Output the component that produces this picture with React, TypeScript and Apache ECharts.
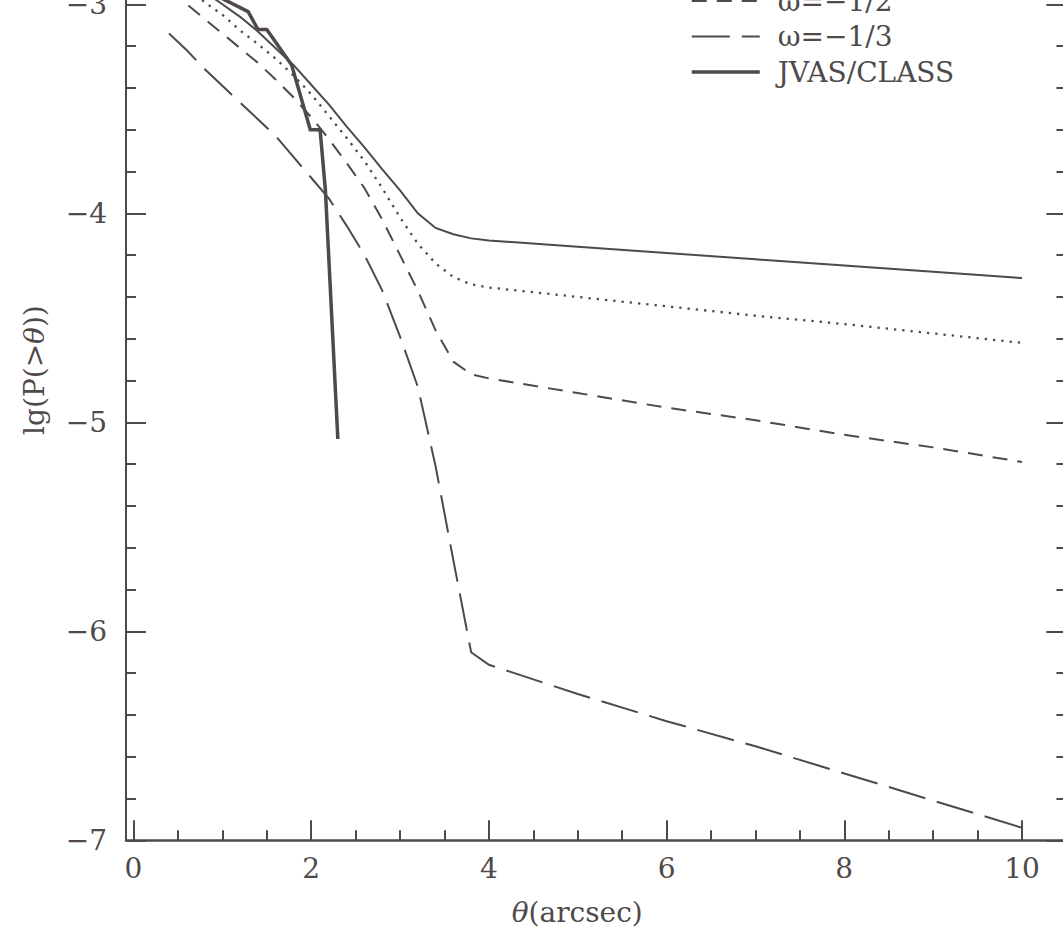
import React, { useEffect, useRef } from "react";
import * as echarts from "echarts";

// theta (arcsec) sample points for the model curves
const thetaModel = [
  0.4, 0.6, 0.8, 1.0, 1.2, 1.4, 1.6, 1.8, 2.0, 2.2, 2.4, 2.6, 2.8, 3.0, 3.2, 3.4, 3.6, 3.8, 4.0,
  5, 6, 7, 8, 9, 10,
];
// lg P(>theta) for each dark-energy model
const lgP_wm1 = [
  -2.83, -2.88, -2.94, -3.0, -3.06, -3.13, -3.21, -3.29, -3.385, -3.48, -3.585, -3.685, -3.79, -3.89,
  -4.0, -4.07, -4.1, -4.12, -4.13, -4.16, -4.19, -4.22, -4.25, -4.28, -4.31,
];
const lgP_wm23 = [
  -2.86, -2.92, -2.99, -3.05, -3.125, -3.19, -3.26, -3.34, -3.43, -3.535, -3.64, -3.75, -3.88, -4.02,
  -4.145, -4.24, -4.305, -4.34, -4.355, -4.4, -4.445, -4.49, -4.53, -4.575, -4.62,
];
const lgP_wm12 = [
  -2.93, -3.0, -3.07, -3.14, -3.21, -3.28, -3.36, -3.445, -3.54, -3.645, -3.76, -3.88, -4.03, -4.2,
  -4.37, -4.56, -4.71, -4.77, -4.79, -4.86, -4.93, -4.99, -5.06, -5.12, -5.19,
];
const lgP_wm13 = [
  -3.14, -3.22, -3.31, -3.39, -3.47, -3.55, -3.63, -3.73, -3.83, -3.93, -4.06, -4.2, -4.37, -4.59,
  -4.83, -5.21, -5.66, -6.1, -6.16, -6.3, -6.43, -6.55, -6.68, -6.81, -6.94,
];
// observed JVAS/CLASS distribution
const thetaObs = [0.8, 1.29, 1.4, 1.5, 1.78, 1.99, 2.1, 2.16, 2.3];
const lgP_obs = [-2.93, -3.035, -3.12, -3.12, -3.29, -3.6, -3.6, -3.89, -5.08];

// axis ticks
const xMajorTicks = [0, 2, 4, 6, 8, 10];
const xMinorTicks = [0.5, 1, 1.5, 2.5, 3, 3.5, 4.5, 5, 5.5, 6.5, 7, 7.5, 8.5, 9, 9.5];
const yMajorTicks = [-7, -6, -5, -4, -3];
const yMinorTicks = [
  -6.8, -6.6, -6.4, -6.2, -5.8, -5.6, -5.4, -5.2, -4.8, -4.6, -4.4, -4.2, -3.8, -3.6, -3.4, -3.2,
  -2.8, -2.6,
];

const seriesNames = ["ω=−1", "ω=−2/3", "ω=−1/2", "ω=−1/3", "JVAS/CLASS"];
const legendNames = ["ω=−1/2", "ω=−1/3", "JVAS/CLASS"];

const X_MIN = -0.0844;
const X_MAX = 10.5;
const Y_MIN = -7;
const Y_MAX = -2.5;

const INK = "#4f4949";
const FONT = "DejaVu Serif";

const pairs = (xs: number[], ys: number[]) => xs.map((x, i) => [x, ys[i]]);
const minus = (v: number) => String(v).replace("-", "\u2212");

export default function App() {
  const ref = useRef<HTMLDivElement>(null);

  useEffect(() => {
    if (!ref.current) return;
    const chart = echarts.init(ref.current, null, { renderer: "svg" });

    const lineBase = (name: string, ys: number[], xs: number[], width: number, type: any, z = 2) => ({
      name,
      type: "line",
      data: pairs(xs, ys),
      symbol: "none",
      showSymbol: false,
      smooth: false,
      z,
      lineStyle: { color: INK, width, type, cap: "butt", join: "miter" },
      itemStyle: { color: INK },
      emphasis: { disabled: true },
    });

    const xCommon = {
      type: "value",
      position: "bottom",
      min: X_MIN,
      max: X_MAX,
      splitLine: { show: false },
    };
    const yCommon = {
      type: "value",
      min: Y_MIN,
      max: Y_MAX,
      splitLine: { show: false },
    };

    chart.setOption({
      animation: false,
      backgroundColor: "#ffffff",
      grid: { left: 126, right: 133.6, top: 49.8, bottom: 92.7, containLabel: false },
      legend: {
        data: legendNames,
        orient: "vertical",
        left: 690,
        top: 137,
        padding: 0,
        itemWidth: 68,
        itemHeight: 14,
        itemGap: 7.5,
        selectedMode: false,
        textStyle: {
          fontFamily: FONT,
          fontSize: 28,
          color: INK,
          lineHeight: 26,
          padding: [0, 0, 0, 13],
        },
        itemStyle: { color: "rgba(0,0,0,0)", borderWidth: 0, opacity: 0 },
        lineStyle: { width: "inherit", type: "inherit", color: "inherit", opacity: 1 },
      },
      xAxis: [
        {
          ...xCommon,
          axisLine: { show: true, onZero: false, lineStyle: { color: INK, width: 2.5 } },
          axisTick: {
            show: true,
            inside: true,
            length: 20,
            customValues: xMajorTicks,
            lineStyle: { color: INK, width: 2 },
          },
          axisLabel: {
            show: true,
            customValues: xMajorTicks,
            margin: 14,
            fontFamily: FONT,
            fontSize: 28,
            color: INK,
            formatter: minus,
          },
          name: "{i|θ}(arcsec)",
          nameLocation: "middle",
          nameGap: 58,
          nameTextStyle: {
            fontFamily: FONT,
            fontSize: 28,
            color: INK,
            padding: [0, 38, 0, 0],
            rich: { i: { fontFamily: FONT, fontSize: 28, fontStyle: "italic", color: INK } },
          },
        },
        {
          ...xCommon,
          axisLine: { show: false, onZero: false },
          axisTick: {
            show: true,
            inside: true,
            length: 10,
            customValues: xMinorTicks,
            lineStyle: { color: INK, width: 2 },
          },
          axisLabel: { show: false },
        },
      ],
      yAxis: [
        {
          ...yCommon,
          position: "left",
          axisLine: { show: true, onZero: false, lineStyle: { color: INK, width: 2 } },
          axisTick: {
            show: true,
            inside: true,
            length: 20,
            customValues: yMajorTicks,
            lineStyle: { color: INK, width: 2 },
          },
          axisLabel: {
            show: true,
            customValues: yMajorTicks,
            margin: 19,
            fontFamily: FONT,
            fontSize: 28,
            color: INK,
            formatter: minus,
          },
          name: "lg(P(>{i|θ}))",
          nameLocation: "middle",
          nameRotate: 90,
          nameGap: 78,
          nameTextStyle: {
            fontFamily: FONT,
            fontSize: 28,
            color: INK,
            rich: { i: { fontFamily: FONT, fontSize: 28, fontStyle: "italic", color: INK } },
          },
        },
        {
          ...yCommon,
          position: "left",
          axisLine: { show: false, onZero: false },
          axisTick: {
            show: true,
            inside: true,
            length: 10,
            customValues: yMinorTicks,
            lineStyle: { color: INK, width: 2 },
          },
          axisLabel: { show: false },
        },
        {
          ...yCommon,
          position: "right",
          axisLine: { show: true, onZero: false, lineStyle: { color: INK, width: 2 } },
          axisTick: {
            show: true,
            inside: true,
            length: 20,
            customValues: yMajorTicks,
            lineStyle: { color: INK, width: 2 },
          },
          axisLabel: { show: false },
        },
        {
          ...yCommon,
          position: "right",
          axisLine: { show: false, onZero: false },
          axisTick: {
            show: true,
            inside: true,
            length: 10,
            customValues: yMinorTicks,
            lineStyle: { color: INK, width: 2 },
          },
          axisLabel: { show: false },
        },
      ],
      series: [
        lineBase(seriesNames[0], lgP_wm1, thetaModel, 2, "solid"),
        lineBase(seriesNames[1], lgP_wm23, thetaModel, 2.3, [2.3, 6]),
        lineBase(seriesNames[2], lgP_wm12, thetaModel, 2, [15, 10]),
        lineBase(seriesNames[3], lgP_wm13, thetaModel, 2, [38, 12]),
        lineBase(seriesNames[4], lgP_obs, thetaObs, 3.5, "solid", 5),
      ],
    });

    return () => chart.dispose();
  }, []);

  return (
    <div
      style={{
        position: "fixed",
        left: 0,
        top: 0,
        width: 1063,
        height: 933,
        overflow: "hidden",
        background: "#ffffff",
      }}
    >
      <div ref={ref} style={{ position: "absolute", left: 0, top: -150, width: 1200, height: 1083 }} />
    </div>
  );
}
